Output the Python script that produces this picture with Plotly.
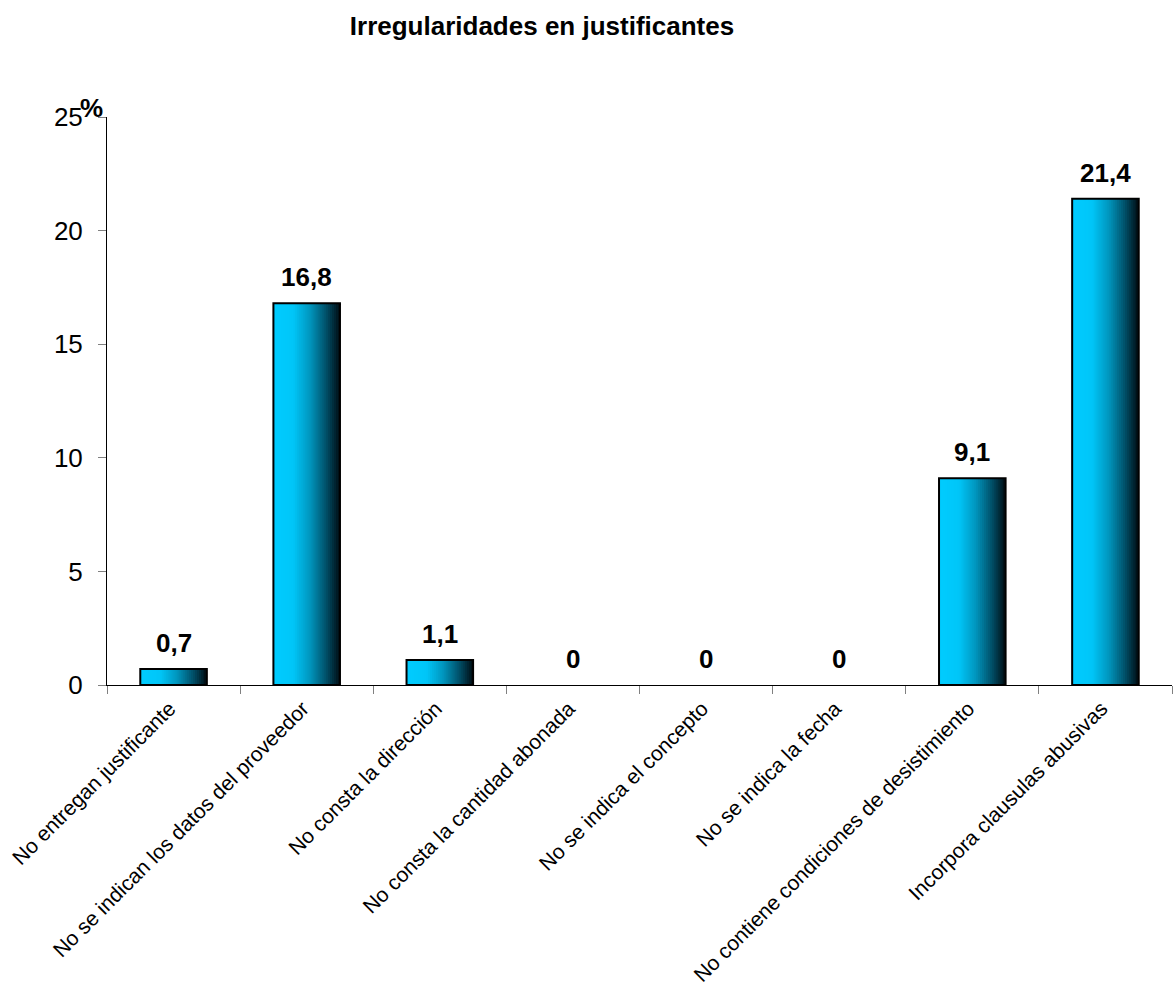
import plotly.graph_objects as go

# Irregularidades detectadas en los justificantes (% sobre el total)
categories = [
    "No entregan justificante",
    "No se indican los datos del proveedor",
    "No consta la dirección",
    "No consta la cantidad abonada",
    "No se indica el concepto",
    "No se indica la fecha",
    "No contiene condiciones de desistimiento",
    "Incorpora clausulas abusivas",
]
values = [0.7, 16.8, 1.1, 0, 0, 0, 9.1, 21.4]

y_ticks = [0, 5, 10, 15, 20, 25]

FONT = "Liberation Sans, Arial, sans-serif"
BAR_W = 0.5
N_SLICES = 34

# horizontal shading of each bar: light cyan on the left fading to near-black
stops = [
    (0.00, (0, 204, 255)),
    (0.30, (0, 198, 248)),
    (0.55, (0, 150, 190)),
    (0.80, (0, 78, 102)),
    (1.00, (0, 12, 18)),
]


def shade(t):
    for (p0, c0), (p1, c1) in zip(stops[:-1], stops[1:]):
        if p0 <= t <= p1:
            f = (t - p0) / (p1 - p0)
            r, g, b = (round(a + (b_ - a) * f) for a, b_ in zip(c0, c1))
            return f"rgb({r},{g},{b})"
    return "rgb(0,12,18)"


fig = go.Figure()

# each slice spans from its own left edge to the bar's right edge,
# so consecutive slices overlap and leave no seams
for k in range(N_SLICES):
    left = -BAR_W / 2 + k * BAR_W / N_SLICES
    fig.add_bar(
        x=categories,
        y=values,
        width=BAR_W / 2 - left,
        offset=left,
        marker=dict(color=shade((k + 0.5) / N_SLICES), line=dict(width=0)),
        hoverinfo="skip",
        showlegend=False,
    )

# outline of every non-empty bar
fig.add_bar(
    x=categories,
    y=values,
    width=BAR_W,
    offset=-BAR_W / 2,
    marker=dict(
        color="rgba(0,0,0,0)",
        line=dict(color="black", width=[2 if v > 0 else 0 for v in values]),
    ),
    showlegend=False,
)

# value labels above the bars
for cat, v in zip(categories, values):
    fig.add_annotation(
        x=cat,
        y=v,
        text=f"{v:g}".replace(".", ","),
        showarrow=False,
        yanchor="bottom",
        yshift=9,
        font=dict(family=FONT, size=26, color="black", weight="bold"),
    )

# unit marker at the top of the value axis
fig.add_annotation(
    xref="paper",
    yref="y",
    x=0,
    y=25,
    text="%",
    showarrow=False,
    xanchor="right",
    yanchor="bottom",
    xshift=-2,
    yshift=-8,
    font=dict(family=FONT, size=26, color="black", weight="bold"),
)

fig.update_layout(
    width=1175,
    height=987,
    barmode="overlay",
    paper_bgcolor="white",
    plot_bgcolor="white",
    margin=dict(l=107, r=3, t=117, b=302, autoexpand=False),
    title=dict(
        text="Irregularidades en justificantes",
        x=542 / 1175,
        xref="container",
        xanchor="center",
        y=1 - 17 / 987,
        yref="container",
        yanchor="top",
        font=dict(family=FONT, size=26, color="black", weight="bold"),
    ),
    showlegend=False,
)

fig.update_xaxes(
    type="category",
    tickson="boundaries",
    ticks="outside",
    ticklen=8,
    tickcolor="#808080",
    tickwidth=1,
    tickangle=-45,
    ticklabelstandoff=2,
    ticklabelshift=-4,
    tickfont=dict(family=FONT, size=21, color="black"),
    showline=True,
    linecolor="black",
    linewidth=1,
    showgrid=False,
    automargin=False,
    fixedrange=True,
)

fig.update_yaxes(
    range=[0, 25],
    tickvals=y_ticks,
    ticktext=[str(t) for t in y_ticks],
    ticks="outside",
    ticklen=8,
    tickcolor="#808080",
    tickwidth=1,
    ticklabelstandoff=10,
    tickfont=dict(family=FONT, size=26, color="black"),
    showline=True,
    linecolor="black",
    linewidth=1,
    showgrid=False,
    zeroline=False,
    automargin=False,
    fixedrange=True,
)

fig.write_html("out.html")
